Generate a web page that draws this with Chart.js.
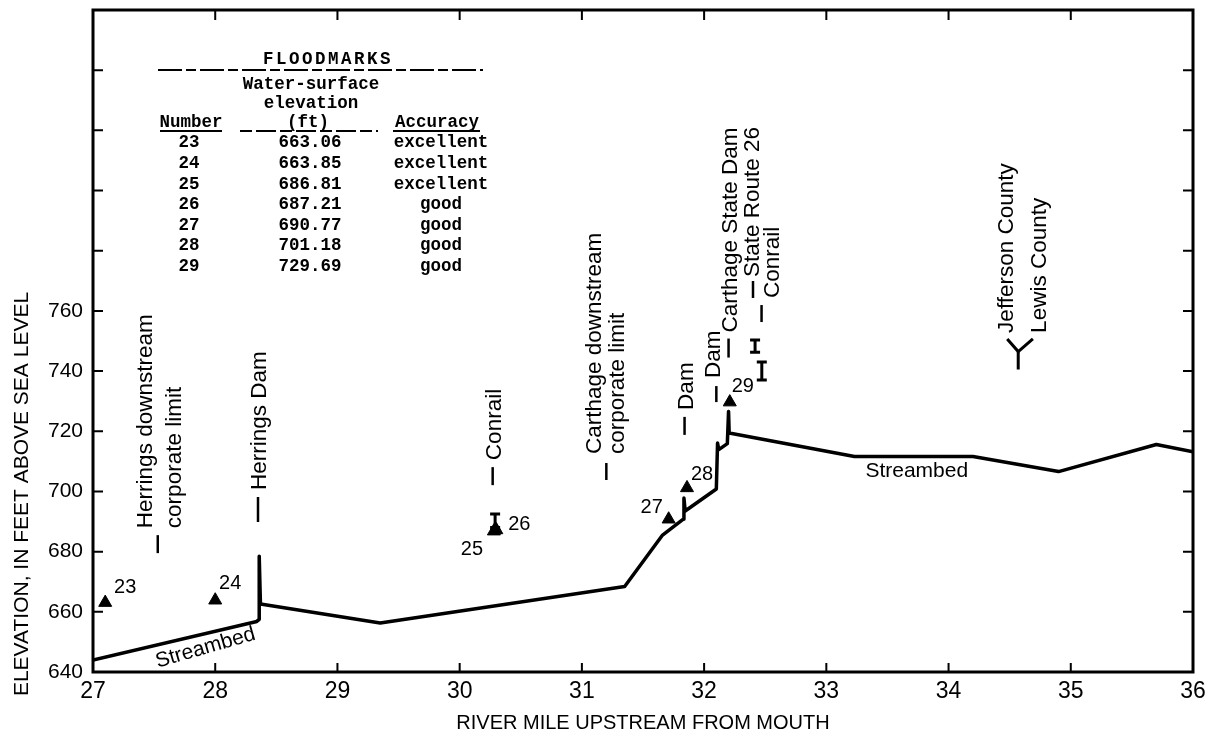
<!DOCTYPE html>
<html>
<head>
<meta charset="utf-8">
<script src="https://cdn.jsdelivr.net/npm/chart.js@4/dist/chart.umd.min.js"></script>
<style>
  html, body { margin: 0; padding: 0; background: #fff; }
  #wrap { width: 1215px; height: 741px; position: relative; }
</style>
</head>
<body>
<div id="wrap"><canvas id="profile"></canvas></div>
<script>
// ---- Streambed profile: river mile vs. elevation (ft) ----
const streambedMiles = [27.00, 28.34, 28.36, 28.36, 28.37, 29.35, 31.35, 31.66, 31.83, 31.835, 31.845,
                        32.10, 32.11, 32.12, 32.19, 32.20, 32.205, 33.23, 34.20, 34.90, 35.70, 36.00];
const streambedElev  = [644.0, 656.8, 657.5, 678.5, 662.6, 656.3, 668.4, 685.5, 690.8, 697.8, 693.5,
                        700.8, 716.1, 713.9, 715.9, 726.6, 719.4, 711.6, 711.6, 706.6, 715.6, 713.2];

// ---- Floodmarks ----
const floodmarkNumbers  = ['23', '24', '25', '26', '27', '28', '29'];
const floodmarkMiles    = [27.10, 28.00, 30.28, 30.30, 31.71, 31.86, 32.21];
const floodmarkElev     = [663.06, 663.85, 686.81, 687.21, 690.77, 701.18, 729.69];
const floodmarkAccuracy = ['excellent', 'excellent', 'excellent', 'good', 'good', 'good', 'good'];

// ---- Bridge openings (low chord / deck) ----
const bridgeMiles = [30.29, 32.417, 32.472];
const bridgeLow   = [688.0, 746.3, 737.0];
const bridgeHigh  = [692.5, 750.3, 743.0];

// ---- County line fork ----
const countyForkMiles = [34.48, 34.57, 34.69];
const countyForkElev  = [750.7, 746.5, 750.7];
const countyStemMiles = [34.57, 34.57];
const countyStemElev  = [746.5, 740.5];

// ---- Features along the river ----
const featureMiles = [27.53, 28.35, 30.27, 31.20, 31.84, 32.10, 32.20, 32.40, 32.47, 34.57];
const featureBase  = [679.5, 689.85, 702.1, 703.8, 718.8, 729.7, 744.5, 764.3, 756.3, 752.7];
const featureNames = ['Herrings downstream\ncorporate limit', 'Herrings Dam', 'Conrail',
                      'Carthage downstream\ncorporate limit', 'Dam', 'Dam', 'Carthage State Dam',
                      'State Route 26', 'Conrail', 'Jefferson County\nLewis County'];

// ---- Axes ----
const xMin = 27, xMax = 36, xStep = 1;
const yMin = 640, yMax = 860, yStep = 20, yLabelMax = 760;
const xTitle = 'RIVER MILE UPSTREAM FROM MOUTH';
const yTitle = 'ELEVATION, IN FEET ABOVE SEA LEVEL';

// ---- Drawing layout ----
const SANS = "'Liberation Sans', Arial, Helvetica, sans-serif";
const MONO = "'Liberation Mono', 'Courier New', monospace";
const featureLayout = [
  { tick: 18, gap: 7, dx: [-14, 15] },
  { tick: 25, gap: 7, dx: [0] },
  { tick: 18, gap: 7, dx: [0] },
  { tick: 17, gap: 9, dx: [-13, 10] },
  { tick: 18, gap: 7, dx: [0] },
  { tick: 16, gap: 8, dx: [-4] },
  { tick: 19, gap: 6, dx: [0] },
  { tick: 17, gap: 4, dx: [-2] },
  { tick: 17, gap: 7, dx: [9] },
  { tick: 0,  gap: 0, dx: [-13, 20] }
];
const floodLabelOffsets = [[20, -15], [15, -17], [-22, 18], [23, -5], [-17, -12], [15, -13], [13, -16]];

const pts = (xs, ys) => xs.map((x, i) => ({ x: x, y: ys[i] }));

function rotatedText(ctx, text, x, yStart, size) {
  ctx.save();
  ctx.translate(x, yStart);
  ctx.rotate(-Math.PI / 2);
  ctx.textAlign = 'left';
  ctx.textBaseline = 'alphabetic';
  ctx.fillText(text, 0, size * 0.36);
  ctx.restore();
}

const profilePlugin = {
  id: 'profileDecor',
  afterDatasetsDraw(chart) {
    const { ctx, scales: { x, y } } = chart;
    ctx.save();
    ctx.fillStyle = '#000';
    ctx.strokeStyle = '#000';

    // bridge openings
    ctx.lineWidth = 3;
    ctx.lineCap = 'butt';
    bridgeMiles.forEach((m, i) => {
      const px = x.getPixelForValue(m);
      const y1 = y.getPixelForValue(bridgeHigh[i]);
      const y2 = y.getPixelForValue(bridgeLow[i]);
      ctx.beginPath();
      ctx.moveTo(px, y1); ctx.lineTo(px, y2);
      ctx.moveTo(px - 5, y1); ctx.lineTo(px + 5, y1);
      ctx.moveTo(px - 5, y2); ctx.lineTo(px + 5, y2);
      ctx.stroke();
    });

    // feature labels
    const fs = 22.5;
    ctx.font = fs + 'px ' + SANS;
    ctx.lineWidth = 2.5;
    featureMiles.forEach((m, i) => {
      const L = featureLayout[i];
      const px = x.getPixelForValue(m);
      const base = y.getPixelForValue(featureBase[i]);
      if (L.tick > 0) {
        ctx.beginPath();
        ctx.moveTo(px, base);
        ctx.lineTo(px, base - L.tick);
        ctx.stroke();
      }
      const start = base - L.tick - L.gap;
      featureNames[i].split('\n').forEach((line, k) => {
        rotatedText(ctx, line, px + L.dx[k], start, fs);
      });
    });

    // floodmark numbers
    ctx.font = '20px ' + SANS;
    ctx.textAlign = 'center';
    ctx.textBaseline = 'middle';
    floodmarkNumbers.forEach((n, i) => {
      const px = x.getPixelForValue(floodmarkMiles[i]);
      const py = y.getPixelForValue(floodmarkElev[i]);
      ctx.fillText(n, px + floodLabelOffsets[i][0], py + floodLabelOffsets[i][1]);
    });

    // streambed captions
    ctx.font = '21px ' + SANS;
    ctx.save();
    ctx.translate(x.getPixelForValue(27.92), y.getPixelForValue(648.0));
    ctx.rotate(-16 * Math.PI / 180);
    ctx.fillText('Streambed', 0, 0);
    ctx.restore();
    ctx.fillText('Streambed', x.getPixelForValue(33.74), y.getPixelForValue(706.8));

    // floodmark table
    ctx.font = 'bold 17.5px ' + MONO;
    ctx.textBaseline = 'middle';
    ctx.textAlign = 'center';
    ctx.save();
    ctx.letterSpacing = '2.5px';
    ctx.fillText('FLOODMARKS', 328, 60);
    ctx.restore();
    ctx.fillText('Water-surface', 311, 85);
    ctx.fillText('elevation', 311, 104);
    ctx.fillText('Number', 191, 123);
    ctx.fillText('(ft)', 308, 123);
    ctx.fillText('Accuracy', 437, 123);
    floodmarkNumbers.forEach((n, i) => {
      const ty = 143 + i * 20.6;
      ctx.fillText(n, 189, ty);
      ctx.fillText(floodmarkElev[i].toFixed(2), 310, ty);
      ctx.fillText(floodmarkAccuracy[i], 441, ty);
    });
    ctx.lineWidth = 1.8;
    ctx.setLineDash([24, 4, 10, 4]);
    ctx.beginPath(); ctx.moveTo(158, 70); ctx.lineTo(483, 70); ctx.stroke();
    ctx.setLineDash([12, 4, 20, 4]);
    ctx.beginPath(); ctx.moveTo(240, 131); ctx.lineTo(378, 131); ctx.stroke();
    ctx.setLineDash([]);
    ctx.beginPath(); ctx.moveTo(160, 131); ctx.lineTo(222, 131); ctx.stroke();
    ctx.beginPath(); ctx.moveTo(393, 131); ctx.lineTo(480, 131); ctx.stroke();

    ctx.restore();
  },
  afterDraw(chart) {
    const { ctx, scales: { x, y }, chartArea: a } = chart;
    ctx.save();
    ctx.strokeStyle = '#000';
    ctx.fillStyle = '#000';
    // frame
    ctx.lineWidth = 3;
    ctx.strokeRect(a.left, a.top, a.right - a.left, a.bottom - a.top);
    // inward tick marks on all four sides
    ctx.lineWidth = 2;
    for (let v = yMin + yStep; v < yMax; v += yStep) {
      const py = y.getPixelForValue(v);
      ctx.beginPath();
      ctx.moveTo(a.left, py); ctx.lineTo(a.left + 10, py);
      ctx.moveTo(a.right, py); ctx.lineTo(a.right - 10, py);
      ctx.stroke();
    }
    for (let v = xMin + xStep; v < xMax; v += xStep) {
      const px = x.getPixelForValue(v);
      ctx.beginPath();
      ctx.moveTo(px, a.bottom); ctx.lineTo(px, a.bottom - 9);
      ctx.moveTo(px, a.top); ctx.lineTo(px, a.top + 10);
      ctx.stroke();
    }
    // axis titles
    ctx.font = '20px ' + SANS;
    ctx.textAlign = 'center';
    ctx.textBaseline = 'middle';
    ctx.fillText(xTitle, (a.left + a.right) / 2, 723);
    ctx.save();
    ctx.translate(22, 494);
    ctx.rotate(-Math.PI / 2);
    ctx.font = '21px ' + SANS;
    ctx.fillText(yTitle, 0, 0);
    ctx.restore();
    ctx.restore();
  }
};

new Chart(document.getElementById('profile'), {
  type: 'scatter',
  data: {
    datasets: [
      {
        label: 'Streambed',
        data: pts(streambedMiles, streambedElev),
        showLine: true,
        borderColor: '#000',
        borderWidth: 3.5,
        borderJoinStyle: 'round',
        borderCapStyle: 'round',
        pointRadius: 0,
        tension: 0
      },
      {
        label: 'Floodmarks',
        data: pts(floodmarkMiles, floodmarkElev),
        pointStyle: 'triangle',
        pointRadius: 7.5,
        backgroundColor: '#000',
        borderColor: '#000',
        borderWidth: 1
      },
      {
        label: 'County line',
        data: pts(countyForkMiles, countyForkElev),
        showLine: true,
        borderColor: '#000',
        borderWidth: 3,
        pointRadius: 0
      },
      {
        label: 'County line stem',
        data: pts(countyStemMiles, countyStemElev),
        showLine: true,
        borderColor: '#000',
        borderWidth: 3,
        pointRadius: 0
      }
    ]
  },
  options: {
    responsive: true,
    maintainAspectRatio: false,
    animation: false,
    devicePixelRatio: 1,
    layout: { padding: { top: 10, right: 22, left: 0, bottom: 0 } },
    plugins: { legend: { display: false }, tooltip: { enabled: false } },
    scales: {
      x: {
        type: 'linear',
        min: xMin, max: xMax,
        grid: { display: false, drawTicks: false },
        border: { display: false },
        ticks: { stepSize: xStep, color: '#000', padding: 6, font: { family: SANS, size: 23 } },
        afterFit(s) { s.height = 69; s.paddingLeft = 0; s.paddingRight = 0; }
      },
      y: {
        type: 'linear',
        min: yMin, max: yMax,
        grid: { display: false, drawTicks: false },
        border: { display: false },
        ticks: {
          stepSize: yStep, color: '#000', padding: 10,
          font: { family: SANS, size: 21 },
          callback: (v) => (v <= yLabelMax ? String(v) : '')
        },
        afterFit(s) { s.width = 93; s.paddingTop = 0; s.paddingBottom = 0; }
      }
    }
  },
  plugins: [profilePlugin]
});
</script>
</body>
</html>
